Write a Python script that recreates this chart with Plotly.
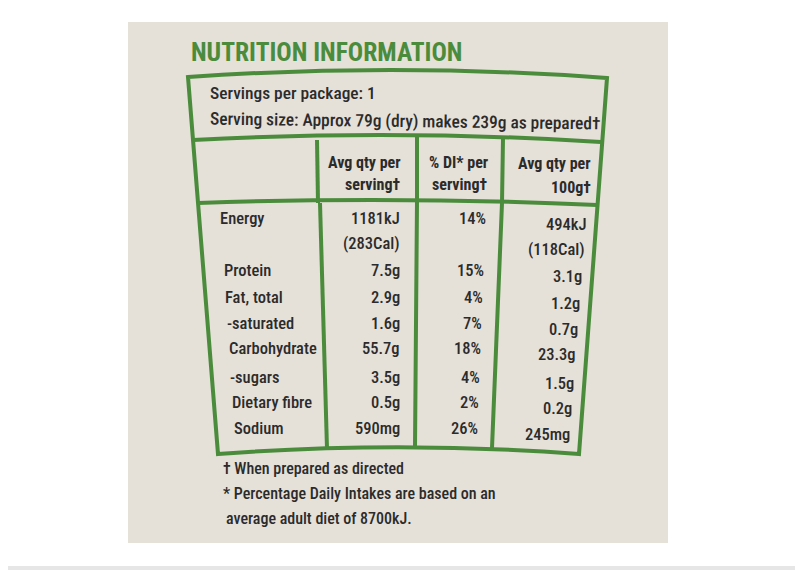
import plotly.graph_objects as go

# label data
title = "NUTRITION INFORMATION"
servings_line = "Servings per package: 1"
serving_size_line = "Serving size: Approx 79g (dry) makes 239g as prepared†"
col_headers = [["Avg qty per", "serving†"], ["% DI* per", "serving†"], ["Avg qty per", "100g†"]]

nutrients = ["Energy", "Protein", "Fat, total", "-saturated", "Carbohydrate",
             "-sugars", "Dietary fibre", "Sodium"]
per_serving = ["1181kJ", "7.5g", "2.9g", "1.6g", "55.7g", "3.5g", "0.5g", "590mg"]
pct_di = ["14%", "15%", "4%", "7%", "18%", "4%", "2%", "26%"]
per_100g = ["494kJ", "3.1g", "1.2g", "0.7g", "23.3g", "1.5g", "0.2g", "245mg"]
energy_cal_serving = "(283Cal)"
energy_cal_100g = "(118Cal)"

footnotes = ["† When prepared as directed",
             "* Percentage Daily Intakes are based on an",
             "average adult diet of 8700kJ."]

FONT = "Roboto Condensed, Liberation Sans Narrow, Roboto, sans-serif"
GREEN = "#4A8C3C"
TXT = "#2B2B2B"
BG = "#E5E0D8"
OFF = 8  # page body margin

fig = go.Figure()

# panel + bottom strip
shapes = [
    dict(type="rect", x0=128, x1=668, y0=22, y1=543, fillcolor=BG,
         line=dict(width=0), layer="below"),
    dict(type="rect", x0=0, x1=803, y0=566, y1=570, fillcolor="#E6E6E6",
         line=dict(width=0), layer="below"),
]

# hand drawn box lines
paths = [
    "M 188,77 Q 398,62.5 607,78 L 579,454 Q 398,440.5 218,454 Z",
    "M 193,140 Q 397,129 601,142",
    "M 198,203 Q 397,196 597,205",
    "M 317,140 L 318,203",
    "M 320,203 L 327,449",
    "M 417,136 L 417,201 L 415,447",
    "M 503,138 L 502,203 L 492,448",
]
for p in paths:
    shapes.append(dict(type="path", path=p, line=dict(color=GREEN, width=4)))

ann = []


def txt(x, y, s, anchor="left", size=16.5, color=TXT, weight=500, angle=0):
    ann.append(dict(x=x, y=y, xref="x", yref="y", text=s, showarrow=False,
                    xanchor=anchor, yanchor="middle", textangle=angle,
                    font=dict(family=FONT, size=size, color=color, weight=weight)))


txt(189, 52, title, size=25.5, color=GREEN, weight=700)
txt(208, 93, servings_line, size=17.4)
txt(208, 121, serving_size_line, size=17.4, angle=0.7)

# column headers
hdr_x = [403, 490, 593]
hdr_y = [[162, 184], [162, 184], [163, 187]]
for i, h in enumerate(col_headers):
    txt(hdr_x[i], hdr_y[i][0], h[0], anchor="right", size=16, weight=700)
    txt(hdr_x[i], hdr_y[i][1], h[1], anchor="right", size=16, weight=700)

# body rows
row_y = [218, 270, 297, 323, 348, 377, 402, 428]
lab_x = [218, 222, 223, 225, 227, 228, 230, 232]
c2_x = [488, 486, 485, 484, 483, 482, 481, 480]
c3_x = [588, 584, 582, 580, 578, 576, 574, 572]
for i in range(len(nutrients)):
    txt(lab_x[i], row_y[i], nutrients[i])
    txt(402, row_y[i], per_serving[i], anchor="right")
    txt(c2_x[i], row_y[i], pct_di[i], anchor="right")
    txt(c3_x[i], row_y[i] + 6, per_100g[i], anchor="right")
txt(402, 243, energy_cal_serving, anchor="right")
txt(587, 249, energy_cal_100g, anchor="right")

for i, f in enumerate(footnotes):
    txt(221 if i < 2 else 224, 468 + 25 * i, f, size=16)

fig.update_layout(
    width=803, height=570,
    margin=dict(l=0, r=0, t=0, b=0),
    paper_bgcolor="white", plot_bgcolor="white",
    xaxis=dict(range=[OFF, 803 + OFF], visible=False, fixedrange=True),
    yaxis=dict(range=[570 + OFF, OFF], visible=False, fixedrange=True),
    shapes=shapes, annotations=ann, showlegend=False,
)

fig.write_html("out.html")
